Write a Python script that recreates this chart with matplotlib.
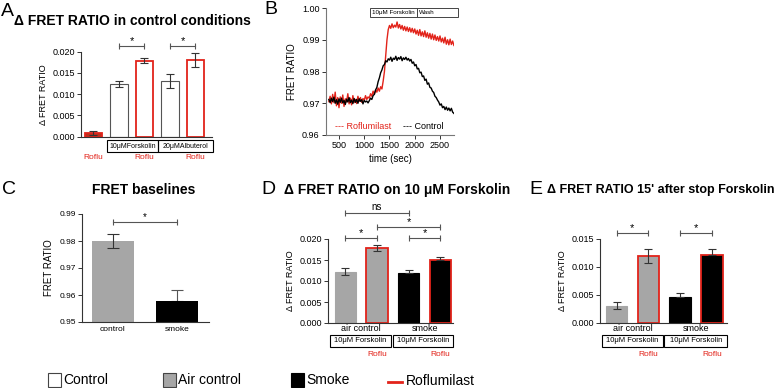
import numpy as np
import matplotlib
matplotlib.use('Agg')
import matplotlib.pyplot as plt
import matplotlib.transforms as mtransforms
from matplotlib.patches import Rectangle

plt.rcParams['font.family'] = ['Liberation Sans', 'DejaVu Sans']

W, H = 778, 388
RED = '#e2231a'
DRED = '#b8321e'
GRAY = '#a6a6a6'
EDGE = '#555555'

# --- data -------------------------------------------------------------
# A: delta FRET ratio in control conditions
a_vals = [0.0009, 0.0124, 0.0179, 0.0131, 0.0181]
a_err = [0.0005, 0.0007, 0.0006, 0.0016, 0.0016]
a_roflu = [True, False, True, False, True]

# B: FRET ratio traces (sec)
b_time = [300, 325, 350, 375, 400, 425, 450, 475, 500, 525,
          550, 575, 600, 625, 650, 675, 700, 725, 750, 775,
          800, 825, 850, 875, 900, 925, 950, 975, 1000, 1025,
          1050, 1075, 1100, 1125, 1150, 1175, 1200, 1225, 1250, 1275,
          1300, 1325, 1350, 1375, 1400, 1425, 1450, 1475, 1500, 1525,
          1550, 1575, 1600, 1625, 1650, 1675, 1700, 1725, 1750, 1775,
          1800, 1825, 1850, 1875, 1900, 1925, 1950, 1975, 2000, 2025,
          2050, 2075, 2100, 2125, 2150, 2175, 2200, 2225, 2250, 2275,
          2300, 2325, 2350, 2375, 2400, 2425, 2450, 2475, 2500, 2525,
          2550, 2575, 2600, 2625, 2650, 2675, 2700, 2725, 2750, 2775]
b_control = [0.9712, 0.9702, 0.9716, 0.9705, 0.9719, 0.9700, 0.9711, 0.9697, 0.9714, 0.9703,
             0.9716, 0.9701, 0.9709, 0.9696, 0.9713, 0.9704, 0.9718, 0.9702, 0.9710, 0.9699,
             0.9715, 0.9703, 0.9712, 0.9700, 0.9714, 0.9706, 0.9711, 0.9698, 0.9709, 0.9704,
             0.9707, 0.9701, 0.9708, 0.9716, 0.9712, 0.9724, 0.9728, 0.9742, 0.9750, 0.9768,
             0.9780, 0.9796, 0.9805, 0.9818, 0.9822, 0.9834, 0.9830, 0.9840, 0.9836, 0.9845,
             0.9832, 0.9842, 0.9838, 0.9848, 0.9835, 0.9844, 0.9839, 0.9847, 0.9834, 0.9843,
             0.9838, 0.9845, 0.9836, 0.9841, 0.9833, 0.9838, 0.9826, 0.9830, 0.9818, 0.9822,
             0.9808, 0.9810, 0.9796, 0.9798, 0.9784, 0.9786, 0.9772, 0.9776, 0.9760, 0.9764,
             0.9750, 0.9748, 0.9738, 0.9734, 0.9722, 0.9718, 0.9710, 0.9704, 0.9694, 0.9698,
             0.9686, 0.9690, 0.9680, 0.9688, 0.9678, 0.9685, 0.9676, 0.9684, 0.9672, 0.9668]
b_roflu = [0.9705, 0.9722, 0.9698, 0.9728, 0.9702, 0.9735, 0.9692, 0.9718, 0.9686, 0.9720,
           0.9700, 0.9726, 0.9690, 0.9714, 0.9704, 0.9730, 0.9698, 0.9716, 0.9695, 0.9724,
           0.9702, 0.9712, 0.9699, 0.9722, 0.9706, 0.9718, 0.9703, 0.9715, 0.9709, 0.9724,
           0.9712, 0.9720, 0.9716, 0.9730, 0.9722, 0.9738, 0.9728, 0.9742, 0.9735, 0.9748,
           0.9738, 0.9752, 0.9745, 0.9770, 0.9800, 0.9850, 0.9900, 0.9932, 0.9945, 0.9936,
           0.9950, 0.9938, 0.9946, 0.9940, 0.9956, 0.9937, 0.9948, 0.9934, 0.9945, 0.9930,
           0.9942, 0.9928, 0.9940, 0.9926, 0.9938, 0.9924, 0.9936, 0.9922, 0.9934, 0.9918,
           0.9930, 0.9914, 0.9932, 0.9912, 0.9925, 0.9910, 0.9928, 0.9908, 0.9922, 0.9905,
           0.9920, 0.9902, 0.9918, 0.9900, 0.9915, 0.9898, 0.9910, 0.9896, 0.9912, 0.9893,
           0.9905, 0.9890, 0.9908, 0.9886, 0.9900, 0.9884, 0.9902, 0.9885, 0.9896, 0.9882]

# C: baselines
c_labels = ['control', 'smoke']
c_vals = [0.9800, 0.9578]
c_err = [0.0025, 0.0042]

# D: delta FRET on forskolin
d_vals = [0.0122, 0.0178, 0.0120, 0.0150]
d_err = [0.0008, 0.0007, 0.0006, 0.0008]

# E: delta FRET 15' after stop
e_vals = [0.0031, 0.0120, 0.0046, 0.0122]
e_err = [0.0006, 0.0012, 0.0008, 0.0010]

group_labels = ['air control', 'smoke']
group_fill = [GRAY, GRAY, 'black', 'black']
group_roflu = [False, True, False, True]

fig = plt.figure(figsize=(W / 100, H / 100), dpi=100)


def add_ax(x0, y0, x1, y1):
    return fig.add_axes([x0 / W, 1 - y1 / H, (x1 - x0) / W, (y1 - y0) / H])


def ftext(x, y, s, **kw):
    fig.text(x / W, 1 - y / H, s, **kw)


def style(ax, fs=6.5):
    for s in ['top', 'right']:
        ax.spines[s].set_visible(False)
    for s in ['left', 'bottom']:
        ax.spines[s].set_color('#333333')
        ax.spines[s].set_linewidth(0.8)
    ax.tick_params(labelsize=fs, length=3, width=0.7, color='#333333', pad=1.5)


def bracket(ax, x0, x1, y, label, fs=8, dy=0.0):
    ax.plot([x0, x1], [y, y], color=EDGE, lw=0.8, clip_on=False)
    ax.plot([x0, x1], [y, y], ls='none', marker='|', ms=4, mew=0.8, color=EDGE, clip_on=False)
    ax.text((x0 + x1) / 2, y + dy, label, ha='center', va='bottom', fontsize=fs, clip_on=False)


def cond_box(ax, x0, x1, y0, y1, text, fs=5.5):
    tr = mtransforms.blended_transform_factory(ax.transData, ax.transAxes)
    ax.add_patch(Rectangle((x0, y1), x1 - x0, y0 - y1, transform=tr, fill=False,
                           lw=0.8, ec='black', clip_on=False))
    ax.text((x0 + x1) / 2, (y0 + y1) / 2, text, transform=tr, ha='center', va='center',
            fontsize=fs, clip_on=False)


def bars(ax, vals, errs, fills, roflu, black_upper=True):
    x = np.arange(len(vals))
    for i, v in enumerate(vals):
        ec = RED if roflu[i] else (EDGE if fills[i] == 'white' else fills[i])
        lw = 1.3 if roflu[i] else 0.8
        ax.bar(x[i], v, width=0.68, color=fills[i], edgecolor=ec, linewidth=lw, zorder=2)
        lo = 0 if (fills[i] == 'black' and black_upper) else errs[i]
        ax.errorbar(x[i], v, yerr=[[lo], [errs[i]]], color='#333333', lw=0.8,
                    capsize=3, capthick=0.8, zorder=3)
    return x


# --- panel A ----------------------------------------------------------
axA = add_ax(81, 51.7, 212, 136.7)
style(axA)
a_fill = [DRED, 'white', 'white', 'white', 'white']
xa = bars(axA, a_vals, a_err, a_fill, a_roflu)
axA.set_xlim(-0.49, 4.65)
axA.set_ylim(0, 0.020)
axA.set_yticks([0, 0.005, 0.010, 0.015, 0.020])
axA.yaxis.set_major_formatter(matplotlib.ticker.FormatStrFormatter('%.3f'))
axA.set_xticks([])
axA.set_ylabel('Δ FRET RATIO', fontsize=6.5, labelpad=3)
bracket(axA, 1, 2, 0.0213, '*')
bracket(axA, 3, 4, 0.0213, '*')
cond_box(axA, 0.53, 2.53, -0.04, -0.18, '10μMForskolin', fs=5)
cond_box(axA, 2.53, 4.68, -0.04, -0.18, '20μMAlbuterol', fs=5)
trA = mtransforms.blended_transform_factory(axA.transData, axA.transAxes)
for i in np.where(a_roflu)[0]:
    axA.text(xa[i], -0.25, 'Roflu', color=RED, fontsize=6, ha='center', va='center',
             transform=trA, clip_on=False)
ftext(132, 21, 'Δ FRET RATIO in control conditions', fontsize=10, fontweight='bold',
      ha='center', va='center')
ftext(1, 11, 'A', fontsize=14, ha='left', va='center')

# --- panel B ----------------------------------------------------------
axB = add_ax(326, 8, 454, 135)
style(axB, fs=6.5)
axB.spines['left'].set_color('#777777')
axB.spines['bottom'].set_color('#777777')
axB.plot(b_time, b_roflu, color=RED, lw=1.0)
axB.plot(b_time, b_control, color='black', lw=1.0)
axB.set_xlim(243, 2777)
axB.set_ylim(0.96, 1.00)
axB.set_xticks([500, 1000, 1500, 2000, 2500])
axB.set_yticks([0.96, 0.97, 0.98, 0.99, 1.00])
axB.yaxis.set_major_formatter(matplotlib.ticker.FormatStrFormatter('%.2f'))
axB.set_xlabel('time (sec)', fontsize=7, labelpad=3)
axB.set_ylabel('FRET RATIO', fontsize=7, labelpad=4)
trB = mtransforms.blended_transform_factory(axB.transData, axB.transAxes)
for (t0, t1, lab) in [(1110, 2040, '10μM Forskolin'), (2040, 2860, 'Wash')]:
    axB.add_patch(Rectangle((t0, 0.93), t1 - t0, 0.068, transform=trB, fill=False,
                            lw=0.7, ec='#444444', clip_on=False))
    axB.text(t0 + 40 if lab == 'Wash' else (t0 + t1) / 2, 0.964, lab, transform=trB,
             fontsize=4.5, ha='left' if lab == 'Wash' else 'center', va='center')
axB.text(0.07, 0.065, '--- Roflumilast', color=RED, fontsize=6.5, transform=axB.transAxes,
         ha='left', va='center')
axB.text(0.605, 0.065, '--- Control', color='black', fontsize=6.5, transform=axB.transAxes,
         ha='left', va='center')
ftext(264, 10, 'B', fontsize=14, ha='left', va='center')

# --- panel C ----------------------------------------------------------
axC = add_ax(82, 214, 209, 322)
style(axC, fs=6)
xc = np.arange(len(c_vals))
axC.bar(xc, [v - 0.95 for v in c_vals], bottom=0.95, width=0.66,
        color=[GRAY, 'black'], zorder=2)
axC.errorbar(xc[0], c_vals[0], yerr=c_err[0], color='#333333', lw=0.8, capsize=4, capthick=0.8, zorder=3)
axC.errorbar(xc[1], c_vals[1], yerr=[[0], [c_err[1]]], color='#555555', lw=0.8, capsize=4,
             capthick=0.8, zorder=1)
axC.set_xlim(-0.484, 1.5)
axC.set_ylim(0.95, 0.99)
axC.set_yticks([0.95, 0.96, 0.97, 0.98, 0.99])
axC.yaxis.set_major_formatter(matplotlib.ticker.FormatStrFormatter('%.2f'))
axC.set_xticks(xc)
axC.set_xticklabels(c_labels, fontsize=6)
axC.tick_params(axis='x', length=0, pad=3)
axC.set_ylabel('FRET RATIO', fontsize=7, labelpad=4)
bracket(axC, 0, 1, 0.987, '*', fs=7)
ftext(144, 190, 'FRET baselines', fontsize=10, fontweight='bold', ha='center', va='center')
ftext(2, 190, 'C', fontsize=14, ha='left', va='center')


# --- panels D and E ---------------------------------------------------
def group_panel(ax, vals, errs, ymax, step, xlim):
    style(ax)
    x = bars(ax, vals, errs, group_fill, group_roflu)
    ax.set_xlim(*xlim)
    ax.set_ylim(0, ymax)
    ax.set_yticks(np.arange(0, ymax + step / 2, step))
    ax.yaxis.set_major_formatter(matplotlib.ticker.FormatStrFormatter('%.3f'))
    ax.set_xticks([0.5, 2.5])
    ax.set_xticklabels(group_labels, fontsize=6.5)
    ax.tick_params(axis='x', length=0, pad=1)
    ax.set_ylabel('Δ FRET RATIO', fontsize=6.5, labelpad=3)
    cond_box(ax, xlim[0] + 0.06, 1.45, -0.14, -0.285, '10μM Forskolin')
    cond_box(ax, 1.5, xlim[1] + 0.01, -0.14, -0.285, '10μM Forskolin')
    tr = mtransforms.blended_transform_factory(ax.transData, ax.transAxes)
    for i in np.where(group_roflu)[0]:
        ax.text(x[i], -0.38, 'Roflu', color=RED, fontsize=6, ha='center', va='center',
                transform=tr, clip_on=False)
    return x


axD = add_ax(328, 239, 453, 323)
group_panel(axD, d_vals, d_err, 0.020, 0.005, (-0.55, 3.4))
bracket(axD, 0, 1, 0.0202, '*')
bracket(axD, 2, 3, 0.0202, '*')
bracket(axD, 1, 3, 0.0229, '*')
bracket(axD, 0, 2, 0.0262, 'ns', fs=7, dy=0.0002)
ftext(397, 190, 'Δ FRET RATIO on 10 μM Forskolin', fontsize=10, fontweight='bold',
      ha='center', va='center')
ftext(261, 190, 'D', fontsize=14, ha='left', va='center')

axE = add_ax(600, 239, 727, 323)
group_panel(axE, e_vals, e_err, 0.015, 0.005, (-0.52, 3.47))
bracket(axE, 0, 1, 0.01607, '*')
bracket(axE, 2, 3, 0.01607, '*')
ftext(661, 190, "Δ FRET RATIO 15' after stop Forskolin", fontsize=9, fontweight='bold',
      ha='center', va='center')
ftext(529, 190, 'E', fontsize=14, ha='left', va='center')

# --- bottom legend ----------------------------------------------------
leg = [('Control', 'white', 48), ('Air control', GRAY, 163), ('Smoke', 'black', 291)]
for lab, col, x0 in leg:
    fig.add_artist(Rectangle((x0 / W, 1 - 387 / H), 13 / W, 14 / H, transform=fig.transFigure,
                             fc=col, ec='#444444' if col != 'black' else 'black', lw=0.8))
    ftext(x0 + 15, 380, lab, fontsize=10, ha='left', va='center')
fig.add_artist(matplotlib.lines.Line2D([388 / W, 402 / W], [1 - 382 / H, 1 - 382 / H],
                                       color=RED, lw=2, transform=fig.transFigure))
ftext(406, 381, 'Roflumilast', fontsize=10, ha='left', va='center')

fig.savefig('out.png', dpi=100)
